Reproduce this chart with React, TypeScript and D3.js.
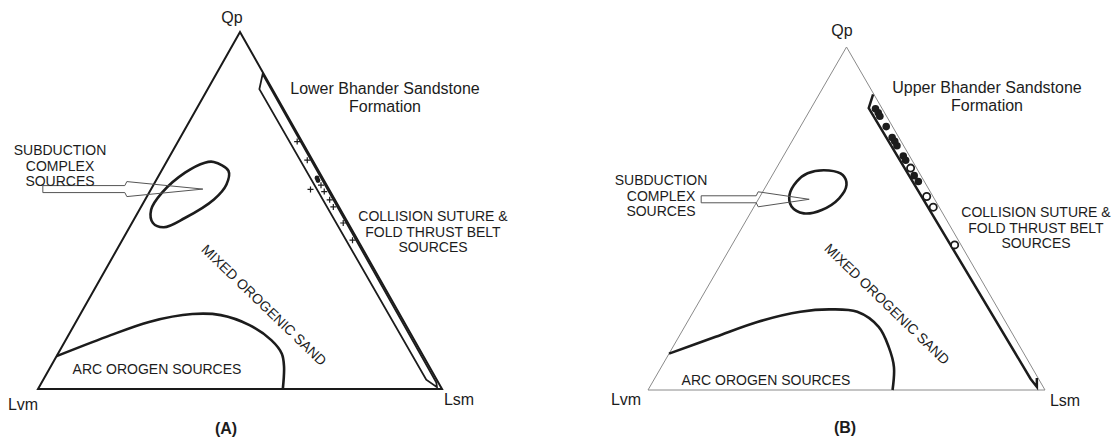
import React from "react";
import * as d3 from "d3";

// Ternary apices: Qp (top), Lvm (bottom left), Lsm (bottom right). Values are percentages.

// Arc orogen field boundary, [Qp, Ls] (Lv = 100 - Qp - Ls)
const arcBoundaryA: [number, number][] = [
  [9.2, 0], [14.6, 9.6], [18.8, 18.1], [21.0, 27.7], [20.7, 34.9],
  [17.9, 43.4], [13.7, 50.9], [9.9, 55.4], [6.2, 57.8], [0, 60.6],
];
const arcBoundaryB: [number, number][] = [
  [10.6, 0], [15.5, 9.3], [19.9, 17.8], [22.8, 27.0], [23.5, 33.9],
  [22.8, 41.3], [18.4, 48.9], [12.5, 54.4], [6.7, 58.6], [0, 61.6],
];

// Subduction complex field (closed), [Qp, Ls]
const subductionA: [number, number][] = [
  [63.6, 11.7], [61.1, 16.6], [57.3, 18.0], [53.1, 17.0], [47.9, 12.4],
  [45.3, 8.5], [46.5, 5.2], [50.2, 2.9], [55.0, 3.2], [60.6, 6.1], [63.4, 9.6],
];
const subductionB: [number, number][] = [
  [63.2, 8.6], [64.0, 13.6], [62.7, 17.7], [59.8, 20.1], [55.9, 20.2],
  [52.5, 17.5], [51.5, 13.5], [53.5, 9.4], [56.9, 7.2], [60.8, 7.1],
];

// Sample envelope along the Qp–Lsm side, [Qp, Lv]
const envelopeA: [number, number][] = [
  [88.2, 0.3], [84.0, 3.2], [2.6, 2.6], [0.5, 1.0], [1.8, 0.5], [88.2, 0.3],
];
const envelopeB: [number, number][] = [
  [86.2, 0.2], [82.2, 3.3], [3.3, 2.0], [0.9, 1.6], [3.5, 0.3],
];

// Lower Bhander Sandstone samples, [Qp, Lv]
const lowerCrosses: [number, number][] = [
  [69.3, 1.2], [64.1, 1.3], [57.1, 1.4], [55.9, 4.6], [55.3, 1.5],
  [53.0, 1.3], [51.0, 1.4], [46.5, 1.2], [41.7, 1.3],
];
const lowerDots: [number, number][] = [[59.1, 1.4], [58.4, 1.5]];

// Upper Bhander Sandstone samples, [Qp, Lv]
const upperFilled: [number, number][] = [
  [82.0, 1.7], [80.8, 1.6], [79.8, 1.7], [76.8, 1.6], [73.6, 1.7],
  [72.5, 1.6], [71.2, 1.7], [68.2, 1.6], [67.0, 1.6], [62.5, 1.7], [60.8, 1.5],
];
const upperOpen: [number, number][] = [
  [64.7, 1.5], [56.4, 1.6], [53.3, 1.5], [42.3, 1.6],
];

// Arrow tip pointing into the subduction field, [Qp, Ls]
const arrowTipA: [number, number] = [56.0, 12.8];
const arrowTipB: [number, number] = [55.6, 12.8];

const FONT = "'Liberation Sans', Arial, Helvetica, sans-serif";
const INK = "#1c1c1c";

type PanelProps = {
  x0: number; x1: number; baseY: number; apexY: number;
  triStroke: string; triWidth: number;
  arc: [number, number][]; sub: [number, number][];
  env: [number, number][]; envClosed: boolean; envWidth: number;
  arrowTip: [number, number]; arrowTail: number; arrowFlare: number;
  title: string; letter: string;
  children?: (map: (qp: number, ls: number) => [number, number]) => React.ReactNode;
  labels: {
    qp: [number, number]; lvm: [number, number]; lsm: [number, number];
    letter: [number, number]; title: [number, number];
    sub: [number, number]; coll: [number, number];
    arcText: [number, number]; mixed: [number, number];
  };
};

function Panel(p: PanelProps) {
  const xs = d3.scaleLinear().domain([0, 100]).range([p.x0, p.x1]);
  const ys = d3.scaleLinear().domain([0, 100]).range([p.baseY, p.apexY]);
  const map = (qp: number, ls: number): [number, number] => [xs(ls + qp / 2), ys(qp)];

  const tri = [map(100, 0), map(0, 0), map(0, 100)];
  const open = d3.line<[number, number]>().curve(d3.curveCatmullRom.alpha(0.5));
  const closed = d3.line<[number, number]>().curve(d3.curveCatmullRomClosed.alpha(0.5));
  const straight = d3.line<[number, number]>();

  const envPts = p.env.map(([qp, lv]) => map(qp, 100 - qp - lv));
  const [tx, ty] = map(p.arrowTip[0], p.arrowTip[1]);
  const arrow: [number, number][] = [
    [tx + p.arrowTail, ty - 3.5], [tx + p.arrowFlare, ty - 3.5], [tx + p.arrowFlare + 2, ty - 7.5],
    [tx, ty], [tx + p.arrowFlare + 2, ty + 7.5], [tx + p.arrowFlare, ty + 3.5],
    [tx + p.arrowTail, ty + 3.5],
  ];
  const L = p.labels;
  return (
    <g fontFamily={FONT} fill={INK}>
      <path d={straight(tri)! + "Z"} fill="none" stroke={p.triStroke} strokeWidth={p.triWidth} strokeLinejoin="miter" />
      <path d={open(p.arc.map(([q, s]) => map(q, s)))!} fill="none" stroke={INK} strokeWidth={2.6} />
      <path d={closed(p.sub.map(([q, s]) => map(q, s)))!} fill="none" stroke={INK} strokeWidth={2.6} />
      <path d={straight(envPts)! + (p.envClosed ? "Z" : "")} fill="none" stroke={INK} strokeWidth={p.envWidth} strokeLinejoin="miter" />
      <path d={straight(arrow)! + "Z"} fill="none" stroke="#555" strokeWidth={1} />
      {p.children && p.children(map)}

      <text x={L.qp[0]} y={L.qp[1]} fontSize={16} textAnchor="middle">Qp</text>
      <text x={L.lvm[0]} y={L.lvm[1]} fontSize={16} textAnchor="middle">Lvm</text>
      <text x={L.lsm[0]} y={L.lsm[1]} fontSize={16} textAnchor="middle">Lsm</text>
      <text x={L.letter[0]} y={L.letter[1]} fontSize={16} fontWeight="bold" textAnchor="middle">{p.letter}</text>

      <text x={L.title[0]} y={L.title[1]} fontSize={16} textAnchor="middle">{p.title}</text>
      <text x={L.title[0]} y={L.title[1] + 18} fontSize={16} textAnchor="middle">Formation</text>

      <g fontSize={14} textAnchor="middle">
        <text x={L.sub[0]} y={L.sub[1]}>SUBDUCTION</text>
        <text x={L.sub[0]} y={L.sub[1] + 15.5}>COMPLEX</text>
        <text x={L.sub[0]} y={L.sub[1] + 31}>SOURCES</text>

        <text x={L.coll[0]} y={L.coll[1]}>COLLISION SUTURE &amp;</text>
        <text x={L.coll[0]} y={L.coll[1] + 16}>FOLD THRUST BELT</text>
        <text x={L.coll[0]} y={L.coll[1] + 31}>SOURCES</text>

        <text x={L.arcText[0]} y={L.arcText[1]}>ARC OROGEN SOURCES</text>
        <text transform={`translate(${L.mixed[0]},${L.mixed[1]}) rotate(44)`} dy="0.35em">MIXED OROGENIC SAND</text>
      </g>
    </g>
  );
}

export default function App() {
  return (
    <svg width={1115} height={443} viewBox="0 0 1115 443"
      style={{ position: "absolute", left: 0, top: 0, background: "#fff" }}>
      <rect width={1115} height={443} fill="#fff" />
      <Panel
        x0={38} x1={442} baseY={389} apexY={32}
        triStroke="#1a1a1a" triWidth={2}
        arc={arcBoundaryA} sub={subductionA}
        env={envelopeA} envClosed={true} envWidth={1.8}
        arrowTip={arrowTipA} arrowTail={-160} arrowFlare={-78}
        title="Lower Bhander Sandstone" letter="(A)"
        labels={{
          qp: [232, 23], lvm: [23, 410], lsm: [459, 405], letter: [226, 434],
          title: [385, 94], sub: [60, 155], coll: [433, 221],
          arcText: [157, 374], mixed: [264, 305],
        }}
      >
        {(map) => (
          <g>
            {lowerCrosses.map(([qp, lv], i) => {
              const [cx, cy] = map(qp, 100 - qp - lv);
              return (
                <path key={i} d={`M${cx - 3},${cy}H${cx + 3}M${cx},${cy - 3}V${cy + 3}`}
                  stroke={INK} strokeWidth={1.2} />
              );
            })}
            {lowerDots.map(([qp, lv], i) => {
              const [cx, cy] = map(qp, 100 - qp - lv);
              return <circle key={i} cx={cx} cy={cy} r={2.4} fill={INK} />;
            })}
          </g>
        )}
      </Panel>
      <Panel
        x0={648} x1={1045} baseY={390} apexY={47}
        triStroke="#8a8a8a" triWidth={1}
        arc={arcBoundaryB} sub={subductionB}
        env={envelopeB} envClosed={false} envWidth={2.5}
        arrowTip={arrowTipB} arrowTail={-108} arrowFlare={-53}
        title="Upper Bhander Sandstone" letter="(B)"
        labels={{
          qp: [842, 36], lvm: [626, 405], lsm: [1065, 406], letter: [845, 433],
          title: [987, 93], sub: [661, 185], coll: [1036, 217],
          arcText: [766, 385], mixed: [887, 304],
        }}
      >
        {(map) => (
          <g>
            {upperFilled.map(([qp, lv], i) => {
              const [cx, cy] = map(qp, 100 - qp - lv);
              return <circle key={i} cx={cx} cy={cy} r={3.8} fill={INK} />;
            })}
            {upperOpen.map(([qp, lv], i) => {
              const [cx, cy] = map(qp, 100 - qp - lv);
              return <circle key={i} cx={cx} cy={cy} r={3.6} fill="#fff" stroke={INK} strokeWidth={1.8} />;
            })}
          </g>
        )}
      </Panel>
    </svg>
  );
}
